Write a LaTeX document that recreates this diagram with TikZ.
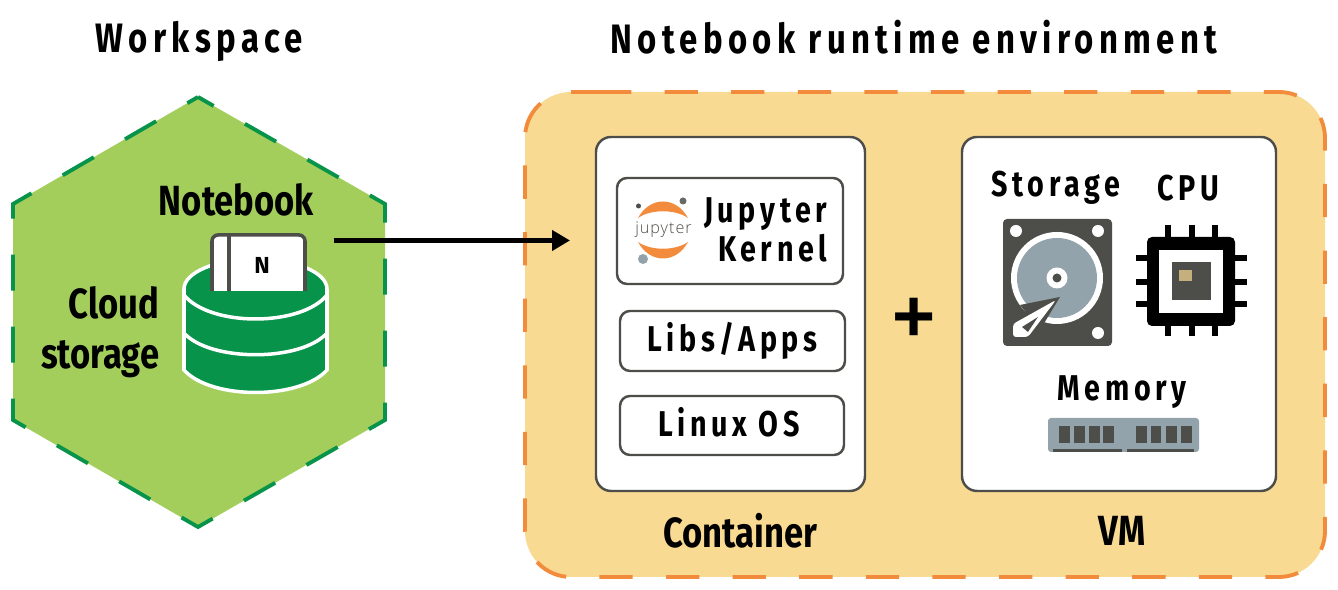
\documentclass[tikz,border=0pt]{standalone}
\usepackage{fontspec}
\setmainfont{Fira Sans}
\newfontfamily\spacedfont[LetterSpace=13,FakeStretch=0.8]{Fira Sans}
\newfontfamily\tightfont[FakeStretch=0.82]{Fira Sans}
\newfontfamily\logofont[LetterSpace=6]{Open Sans Light}
\newfontfamily\plusfont{Liberation Sans}
\usetikzlibrary{arrows.meta}
\definecolor{clrhex}{HTML}{A3CE5B}
\definecolor{clrgreen}{HTML}{08934A}
\definecolor{clrpanel}{HTML}{F8DA93}
\definecolor{clrorange}{HTML}{F28C3C}
\definecolor{clrdark}{HTML}{4D4D49}
\definecolor{clrsteel}{HTML}{93A3AB}
\tikzset{
  heading/.style={font=\spacedfont\bfseries\fontsize{11.7}{14}\selectfont, inner sep=0pt},
  spaced/.style={font=\spacedfont\bfseries\fontsize{10.2}{11.2}\selectfont, inner sep=0pt},
  tight/.style={font=\tightfont\bfseries\fontsize{12}{14.2}\selectfont, inner sep=0pt},
  whitebox/.style={draw=clrdark, line width=0.7pt, fill=white, rounded corners=0.15cm, inner sep=0pt},
  innerbox/.style={whitebox, rounded corners=0.1cm},
  hole/.style={fill=white},
  pin/.style={line width=1.7pt}
}
\begin{document}
\begin{tikzpicture}
    \useasboundingbox (0,0) rectangle (13.38,-5.9);
    \fill[white] (0,0) rectangle (13.38,-5.9);

    % workspace hexagon
    \fill[clrhex] (1.98,-0.97) -- (3.85,-2.04) -- (3.85,-4.2) -- (1.98,-5.27) -- (0.13,-4.2) -- (0.13,-2.04) -- cycle;
    \draw[clrgreen, line width=1.1pt, dash pattern=on 0.36cm off 0.36cm, dash phase=0.18cm]
        (1.98,-0.97) -- (3.85,-2.04) -- (3.85,-4.2) -- (1.98,-5.27) -- (0.13,-4.2) -- (0.13,-2.04) -- cycle;

    % runtime panel
    \fill[clrpanel, rounded corners=0.46cm] (5.98,-0.92) -- (13.25,-0.92) -- (13.25,-5.77) -- (5.25,-5.77) -- (5.25,-0.92) -- cycle;
    \draw[clrorange, line width=1.1pt, rounded corners=0.46cm, dash pattern=on 0.333cm off 0.333cm]
        (5.98,-0.92) -- (13.25,-0.92) -- (13.25,-5.77) -- (5.25,-5.77) -- (5.25,-0.92) -- (5.98,-0.92);
    \node[whitebox, minimum width=2.69cm, minimum height=3.54cm] (container) at (7.305,-3.14) {};
    \node[whitebox, minimum width=3.14cm, minimum height=3.54cm] (vm) at (11.19,-3.14) {};
    \node[innerbox, minimum width=2.26cm, minimum height=1.06cm] (kernel) at (7.3,-2.31) {};
    \node[innerbox, minimum width=2.25cm, minimum height=0.6cm] (libs) at (7.325,-3.41) {};
    \node[innerbox, minimum width=2.24cm, minimum height=0.59cm] (linux) at (7.32,-4.255) {};

    % titles
    \node[heading] (workspace) at (1.995,-0.41) {Workspace};
    \node[heading] (runtime) at (9.14,-0.37) {Notebook runtime environment};
    \node[tight] (containerlabel) at (7.405,-5.31) {Container};
    \node[tight] (vmlabel) at (11.22,-5.31) {VM};
    \node[tight] (notebooklabel) at (2.365,-2) {Notebook};
    \node[tight, align=right, anchor=east] (cloudlabel) at (1.6,-3.32) {Cloud\\storage};
    \node[font=\plusfont\bfseries\fontsize{21}{21}\selectfont, inner sep=0pt] (plus) at (9.14,-3.2) {+};

    % labels in the boxes
    \node[spaced, align=right, anchor=east] (kernellabel) at (8.28,-2.3) {Jupyter\\Kernel};
    \node[spaced] (libslabel) at (libs) {Libs/Apps};
    \node[spaced] (linuxlabel) at (7.29,-4.22) {Linux OS};
    \node[spaced] (storagelabel) at (10.56,-1.88) {Storage};
    \node[spaced] (cpulabel) at (11.88,-1.88) {CPU};
    \node[spaced] (memorylabel) at (11.22,-3.92) {Memory};

    % jupyter logo
    \fill[clrorange] (6.38,-2.18) .. controls (6.5,-1.96) and (6.76,-1.96) .. (6.88,-2.18) .. controls (6.75,-2.09) and (6.51,-2.09) .. (6.38,-2.18) -- cycle;
    \fill[clrorange] (6.38,-2.42) .. controls (6.5,-2.64) and (6.76,-2.64) .. (6.88,-2.42) .. controls (6.75,-2.51) and (6.51,-2.51) .. (6.38,-2.42) -- cycle;
    \fill[clrsteel] (6.43,-2.59) circle (0.05);
    \fill[clrdark] (6.385,-2.06) circle (0.025);
    \fill[clrdark!85] (6.83,-2.01) circle (0.035);
    \node[font=\logofont\fontsize{4.6}{5}\selectfont, text=clrdark, inner sep=0pt] (jupyterlogo) at (6.635,-2.295) {jupyter};

    % cylinder
    \draw[white, fill=clrgreen, line width=1pt] (1.84,-2.89) arc[start angle=180, end angle=360, x radius=0.715, y radius=-0.3] -- (3.27,-3.7) .. controls (3,-4) and (2.11,-4) .. (1.84,-3.7) -- cycle;
    \draw[white, line width=1pt] (1.84,-2.95) .. controls (2.1,-3.27) and (3.01,-3.27) .. (3.27,-2.95);
    \draw[white, line width=1pt] (1.84,-3.33) .. controls (2.1,-3.62) and (3.01,-3.62) .. (3.27,-3.33);

    % notebook
    \fill[white] (2.12,-2.91) -- (2.12,-2.35) -- (3.05,-2.35) -- (3.05,-2.91) -- cycle;
    \draw[clrdark, line width=1pt, rounded corners=0.06cm] (2.12,-2.91) -- (2.12,-2.35) -- (3.05,-2.35) -- (3.05,-2.91);
    \draw[clrdark, line width=1pt] (2.29,-2.35) -- (2.29,-2.91);
    \node[font=\bfseries\fontsize{6.6}{7}\selectfont, inner sep=0pt] (nlabel) at (2.62,-2.65) {N};

    % hard disk
    \fill[clrdark, rounded corners=0.04cm] (10.03,-2.19) rectangle (11.12,-3.46);
    \fill[hole] (10.16,-2.31) circle (0.06);
    \fill[hole] (10.98,-2.31) circle (0.06);
    \fill[hole] (10.98,-3.33) circle (0.06);
    \fill[white] (10.57,-2.78) circle (0.46);
    \fill[clrsteel] (10.57,-2.78) circle (0.4);
    \fill[white] (10.57,-2.78) circle (0.105);
    \fill[clrdark] (10.57,-2.78) circle (0.045);
    \fill[clrdark] (10.2,-3.05) -- (10.6,-2.97) -- (10.4,-3.3) -- cycle;
    \fill[white, rounded corners=0.03cm] (10.56,-3) -- (10.13,-3.24) -- (10.13,-3.37) -- (10.28,-3.37) -- cycle;
    \fill[clrdark] (10.22,-3.27) -- (10.38,-3.17) -- (10.28,-3.32) -- cycle;

    % cpu
    \foreach \x in {11.68,11.92,12.15} {
        \draw[pin] (\x,-2.25) -- (\x,-3.36);
    }
    \foreach \y in {-2.58,-2.82,-3.04} {
        \draw[pin] (11.36,\y) -- (12.47,\y);
    }
    \fill[black, rounded corners=0.05cm] (11.47,-2.37) rectangle (12.35,-3.26);
    \fill[white] (11.59,-2.5) rectangle (12.23,-3.13);
    \fill[clrdark] (11.72,-2.62) rectangle (12.11,-3);
    \fill[clrpanel!70!clrdark] (11.79,-2.7) rectangle (11.92,-2.81);

    % memory
    \fill[clrsteel, rounded corners=0.03cm] (10.48,-4.18) rectangle (11.99,-4.52);
    \foreach \x in {10.59,10.74,10.89,11.03,11.36,11.51,11.66,11.81} {
        \fill[clrdark] (\x,-4.26) rectangle ++(0.105,-0.17);
    }
    \fill[clrdark] (10.53,-4.49) rectangle (11.22,-4.52);
    \fill[clrdark] (11.27,-4.49) rectangle (11.94,-4.52);

    % arrow
    \coordinate (arrowstart) at (3.34,-2.405);
    \coordinate (arrowend) at (5.7,-2.405);
    \draw[-{Triangle[length=0.18cm,width=0.2cm]}, line width=1.2pt] (arrowstart) -- (arrowend);
\end{tikzpicture}
\end{document}
